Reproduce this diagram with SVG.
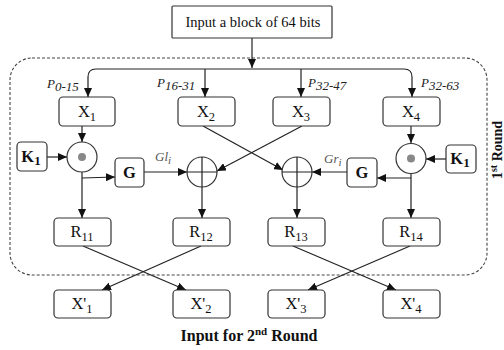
<svg xmlns="http://www.w3.org/2000/svg" width="504" height="350" viewBox="0 0 504 350" font-family="'Liberation Serif', 'Times New Roman', 'DejaVu Serif', serif">
<defs>
<marker id="ah" markerWidth="9" markerHeight="8" refX="9" refY="4" orient="auto" markerUnits="userSpaceOnUse"><path d="M0,0 L9,4 L0,8 z" fill="#111"/></marker>
</defs>
<style>
.box{fill:#fff;stroke:#333;stroke-width:1.2}
.t{font-family:'Liberation Serif','Times New Roman','DejaVu Serif',serif;font-size:16.5px;fill:#111;text-anchor:middle}
.b{font-weight:bold}
.lab{font-family:'Liberation Serif','Times New Roman','DejaVu Serif',serif;font-size:13px;font-style:italic;fill:#222}
.ln{fill:none;stroke:#222;stroke-width:1.2}
.a{marker-end:url(#ah)}
.circ{fill:#fff;stroke:#333;stroke-width:1.2}
</style>
<rect x="10" y="58" width="477" height="217" rx="22" fill="none" stroke="#444" stroke-width="1.1" stroke-dasharray="3,2"/>

<g id="connectors">
<path class="ln a" d="M252,38 V68"/>
<path class="ln" d="M96,69 H404"/>
<path class="ln a" d="M96,69 Q88,69 88,77 V97"/>
<path class="ln a" d="M404,69 Q412,69 412,77 V97"/>
<path class="ln a" d="M205,69 V97"/>
<path class="ln a" d="M301,69 V97"/>
<path class="ln a" d="M82,126 V142"/>
<path class="ln a" d="M47,157 H67"/>
<path class="ln a" d="M82,172 V218"/>
<path class="ln a" d="M82,178 L115,177"/>
<path class="ln a" d="M144,172 H187"/>
<path class="ln a" d="M202,187 V218"/>
<path class="ln a" d="M302,126 L217,171"/>
<path class="ln a" d="M203,126 L283,170"/>
<path class="ln a" d="M411,126 V143"/>
<path class="ln a" d="M446,159 H426"/>
<path class="ln a" d="M411,174 V218"/>
<path class="ln a" d="M411,178 H377"/>
<path class="ln a" d="M347,172 H312"/>
<path class="ln a" d="M297,187 V218"/>
<path class="ln a" d="M83,246 L186,290"/>
<path class="ln a" d="M201,246 L102,290"/>
<path class="ln a" d="M293,246 L396,290"/>
<path class="ln a" d="M410,246 L308,290"/>
</g>

<g id="input"><rect class="box" x="172" y="6" width="160" height="32" rx="1"/><text class="t" x="253" y="27" style="font-size:14.5px">Input a block of 64 bits</text></g>

<g id="labels">
<text class="lab" x="47" y="88">P<tspan dy="3">0-15</tspan></text>
<text class="lab" x="157" y="87">P<tspan dy="3">16-31</tspan></text>
<text class="lab" x="308" y="87">P<tspan dy="3">32-47</tspan></text>
<text class="lab" x="421" y="87">P<tspan dy="3">32-63</tspan></text>
<text class="lab" x="155" y="161" style="fill:#555">Gl<tspan dy="3" font-size="11">i</tspan></text>
<text class="lab" x="324" y="163" style="fill:#555">Gr<tspan dy="3" font-size="11">i</tspan></text>
</g>

<g id="X1"><rect class="box" x="59" y="97" width="56" height="29" rx="4"/><text class="t" x="87" y="117">X<tspan dy="4" font-size="12.5">1</tspan></text></g>
<g id="X2"><rect class="box" x="178" y="97" width="57" height="29" rx="4"/><text class="t" x="206" y="117">X<tspan dy="4" font-size="12.5">2</tspan></text></g>
<g id="X3"><rect class="box" x="273" y="97" width="57" height="29" rx="4"/><text class="t" x="301" y="117">X<tspan dy="4" font-size="12.5">3</tspan></text></g>
<g id="X4"><rect class="box" x="383" y="97" width="57" height="29" rx="4"/><text class="t" x="411" y="117">X<tspan dy="4" font-size="12.5">4</tspan></text></g>

<g id="K1L"><rect class="box" x="17" y="142" width="30" height="29" rx="4"/><text class="t b" x="31" y="162">K<tspan dy="3" font-size="13">1</tspan></text></g>
<g id="K1R"><rect class="box" x="446" y="145" width="30" height="28" rx="4"/><text class="t b" x="460" y="164">K<tspan dy="3" font-size="13">1</tspan></text></g>

<g id="M1"><circle class="circ" cx="82" cy="157" r="15"/><circle cx="82" cy="157" r="4" fill="#888"/></g>
<g id="M2"><circle class="circ" cx="411" cy="158.5" r="15"/><circle cx="411" cy="158.5" r="4" fill="#888"/></g>

<g id="GL"><rect class="box" x="115" y="158" width="29" height="29" rx="4"/><text class="t b" x="129.5" y="178">G</text></g>
<g id="GR"><rect class="box" x="347" y="158" width="30" height="29" rx="4"/><text class="t b" x="362" y="178">G</text></g>

<g id="XOR1"><circle class="circ" cx="202" cy="172" r="15"/><path class="ln" d="M187,172 H217 M202,157 V187" stroke-width="1"/></g>
<g id="XOR2"><circle class="circ" cx="297" cy="172" r="15"/><path class="ln" d="M282,172 H312 M297,157 V187" stroke-width="1"/></g>

<g id="R11"><rect class="box" x="54" y="218" width="57" height="28" rx="4"/><text class="t" x="82" y="237">R<tspan dy="4" font-size="12.5">11</tspan></text></g>
<g id="R12"><rect class="box" x="173" y="218" width="57" height="28" rx="4"/><text class="t" x="201" y="237">R<tspan dy="4" font-size="12.5">12</tspan></text></g>
<g id="R13"><rect class="box" x="268" y="218" width="57" height="28" rx="4"/><text class="t" x="296" y="237">R<tspan dy="4" font-size="12.5">13</tspan></text></g>
<g id="R14"><rect class="box" x="383" y="218" width="57" height="28" rx="4"/><text class="t" x="411" y="237">R<tspan dy="4" font-size="12.5">14</tspan></text></g>

<g id="Xp1"><rect class="box" x="54" y="290" width="57" height="28" rx="4"/><text class="t" x="82" y="309">X'<tspan dy="4" font-size="12.5">1</tspan></text></g>
<g id="Xp2"><rect class="box" x="173" y="290" width="57" height="28" rx="4"/><text class="t" x="201" y="309">X'<tspan dy="4" font-size="12.5">2</tspan></text></g>
<g id="Xp3"><rect class="box" x="268" y="290" width="57" height="28" rx="4"/><text class="t" x="296" y="309">X'<tspan dy="4" font-size="12.5">3</tspan></text></g>
<g id="Xp4"><rect class="box" x="383" y="290" width="57" height="28" rx="4"/><text class="t" x="411" y="309">X'<tspan dy="4" font-size="12.5">4</tspan></text></g>

<text class="t b" x="249" y="341" style="font-size:16px">Input for 2<tspan dy="-6" font-size="11">nd</tspan><tspan dy="6"> Round</tspan></text>
<text class="t b" transform="translate(502,150) rotate(-90)" x="0" y="0" style="font-size:14px">1<tspan dy="-5" font-size="10">st</tspan><tspan dy="5"> Round</tspan></text>
</svg>
